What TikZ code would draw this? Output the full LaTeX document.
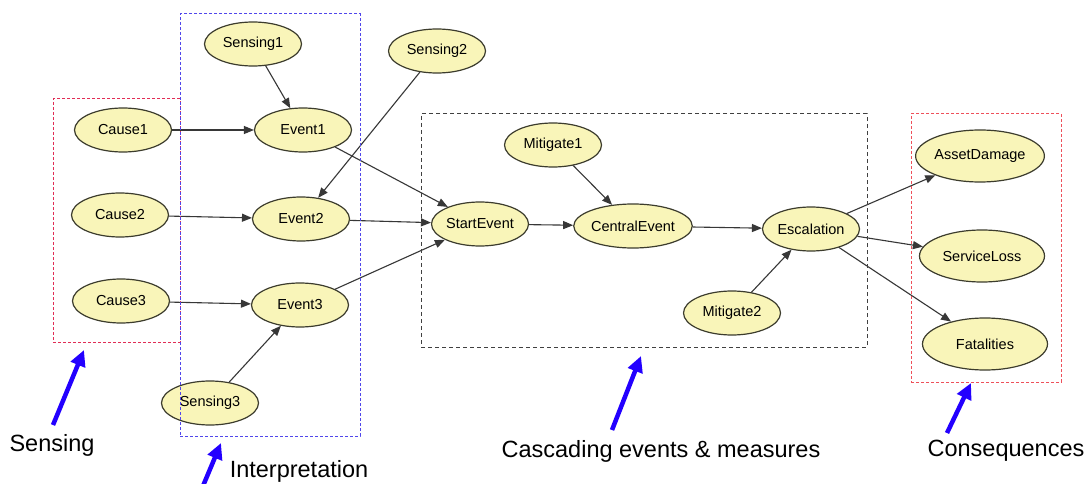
\documentclass[tikz,border=0pt]{standalone}
\usepackage{fontspec}
\setmainfont{Liberation Sans}
\usetikzlibrary{shapes.geometric,arrows.meta}
\definecolor{nodefill}{RGB}{249,245,185}
\definecolor{nodeline}{RGB}{60,60,45}
\definecolor{edgecol}{RGB}{55,55,55}
\definecolor{redbox}{RGB}{225,45,85}
\definecolor{redbox2}{RGB}{238,80,90}
\definecolor{bluebox}{RGB}{80,70,235}
\definecolor{bigblue}{RGB}{35,0,255}
\tikzset{
  ev/.style={ellipse, draw=nodeline, fill=nodefill, line width=1.2pt,
    minimum width=97pt, minimum height=44pt, inner sep=0pt,
    font=\fontsize{14.5}{17}\selectfont},
  evbig/.style={ev, minimum width=125pt, minimum height=52pt},
  link/.style={draw=edgecol, line width=1.1pt, -{Triangle[length=10pt,width=8pt]}},
  grp/.style={line width=1pt, dash pattern=on 3pt off 2pt},
  pointer/.style={draw=bigblue, line width=4.5pt, -{Triangle[length=16pt,width=15pt]}},
  lab/.style={font=\fontsize{23.5}{28}\selectfont, inner sep=0pt}
}
\begin{document}
\begin{tikzpicture}[x=1pt,y=-1pt]
\useasboundingbox (0,0) rectangle (1090,484);
\fill[white] (0,0) rectangle (1090,484);
% nodes
\node[ev] (s1) at (253,44) {Sensing1};
\node[ev] (s2) at (437,51) {Sensing2};
\node[ev] (c1) at (123,130) {Cause1};
\node[ev] (e1) at (303,130) {Event1};
\node[ev] (c2) at (120,215) {Cause2};
\node[ev] (e2) at (301,219) {Event2};
\node[ev] (c3) at (121,301) {Cause3};
\node[ev] (e3) at (300,305) {Event3};
\node[ev] (s3) at (210,403) {Sensing3};
\node[ev] (st) at (480,224) {StartEvent};
\node[ev] (m1) at (553,145) {Mitigate1};
\node[ev, minimum width=110pt] (ce) at (633,226) {CentralEvent};
\node[ev] (es) at (811,229) {Escalation};
\node[ev] (m2) at (732,313) {Mitigate2};
\node[evbig] (ad) at (980,156) {AssetDamage};
\node[evbig] (sl) at (982,256) {ServiceLoss};
\node[evbig] (fa) at (985,344) {Fatalities};
% edges
\draw[link] (s1) -- (e1);
\draw[link] (c1) -- (e1);
\draw[link] (s2) -- (e2);
\draw[link] (c2) -- (e2);
\draw[link] (c3) -- (e3);
\draw[link] (s3) -- (e3);
\draw[link] (e1) -- (st);
\draw[link] (e2) -- (st);
\draw[link] (e3) -- (st);
\draw[link] (st) -- (ce);
\draw[link] (m1) -- (ce);
\draw[link] (ce) -- (es);
\draw[link] (m2) -- (es);
\draw[link] (es) -- (ad);
\draw[link] (es) -- (sl);
\draw[link] (es) -- (fa);
% group boxes
\node[draw=redbox, grp, minimum width=127pt, minimum height=243pt, inner sep=0pt] (gsens) at (116.5,220.5) {};
\node[draw=bluebox, grp, minimum width=180pt, minimum height=422pt, inner sep=0pt] (ginter) at (270,225) {};
\node[draw=black!75, grp, dash pattern=on 4pt off 3pt, minimum width=446pt, minimum height=233pt, inner sep=0pt] (gcasc) at (644,230.5) {};
\node[draw=redbox2, grp, minimum width=150pt, minimum height=268pt, inner sep=0pt] (gcons) at (986,248) {};
% labels
\node[lab] (lsens) at (52,445) {Sensing};
\node[lab] (linter) at (299,471) {Interpretation};
\node[lab] (lcasc) at (661,451) {Cascading events \& measures};
\node[lab] (lcons) at (1006,451) {Consequences};
% pointer arrows
\coordinate (p1) at (53,425);   \coordinate (q1) at (84,350);
\coordinate (p2) at (203,486);  \coordinate (q2) at (221,443);
\coordinate (p3) at (612,430);  \coordinate (q3) at (641,356);
\coordinate (p4) at (947,433);  \coordinate (q4) at (971,383);
\draw[pointer] (p1) -- (q1);
\draw[pointer] (p2) -- (q2);
\draw[pointer] (p3) -- (q3);
\draw[pointer] (p4) -- (q4);
\end{tikzpicture}
\end{document}
